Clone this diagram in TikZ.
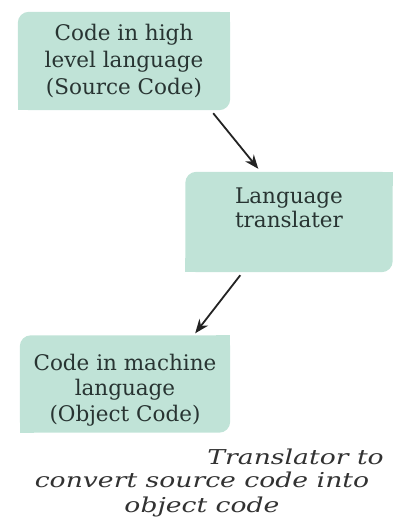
\documentclass[tikz,border=0pt]{standalone}
\usepackage{fontspec}
\setmainfont{DejaVu Serif}
\newfontfamily\captionfont[FakeStretch=1.3]{DejaVu Serif}
\usetikzlibrary{arrows.meta, backgrounds}
\definecolor{boxgreen}{RGB}{192,227,215}
\definecolor{boxtext}{RGB}{40,52,50}
\definecolor{captext}{RGB}{50,50,50}
\definecolor{arrowgray}{RGB}{35,35,35}

\begin{document}
\begin{tikzpicture}[x=1pt, y=-1pt,
            greenbox/.style={rectangle, inner sep=0pt, align=center, text=boxtext,
                font=\fontsize{21.5}{27}\selectfont},
            captionnode/.style={inner sep=0pt, text=captext, font=\captionfont\fontsize{20.5}{25}\selectfont\itshape},
            flowarrow/.style={-{Stealth[length=14pt, width=11pt]}, line width=1.8pt, draw=arrowgray},
            ]
            \useasboundingbox (0,0) rectangle (392,531);

            \node[greenbox, minimum width=212pt, minimum height=98pt] (src) at (124,61)
                {Code in high\\level language\\(Source Code)};
            \node[greenbox, minimum width=207pt, minimum height=100pt, text depth=28pt,
                font=\fontsize{21.5}{24}\selectfont] (trans) at (289,222) {Language\\translater};
            \node[greenbox, minimum width=210pt, minimum height=97pt, text height=79pt,
                font=\fontsize{21.5}{25.5}\selectfont] (obj) at (125,384)
                {Code in machine\\language\\(Object Code)};

            % rounded top left and bottom right corners only
            \begin{scope}[on background layer]
                \foreach \n in {src, trans, obj} {
                    \fill[boxgreen, rounded corners=11pt] (\n.south west) rectangle (\n.north east);
                    \fill[boxgreen] (\n.north east) rectangle ([xshift=-14pt, yshift=-14pt]\n.north east);
                    \fill[boxgreen] (\n.south west) rectangle ([xshift=14pt, yshift=14pt]\n.south west);
                }
            \end{scope}

            \draw[flowarrow] ([xshift=-17pt, yshift=-3pt]src.south east) -- ([xshift=73pt, yshift=3pt]trans.north west);
            \draw[flowarrow] ([xshift=55pt, yshift=-3pt]trans.south west) -- ([xshift=-35pt, yshift=2pt]obj.north east);

            \node[captionnode, anchor=east] (cap1) at (384,457) {Translator to};
            \node[captionnode, align=center] (cap2) at (202,494)
                {convert source code into\\object code};
\end{tikzpicture}
\end{document}
